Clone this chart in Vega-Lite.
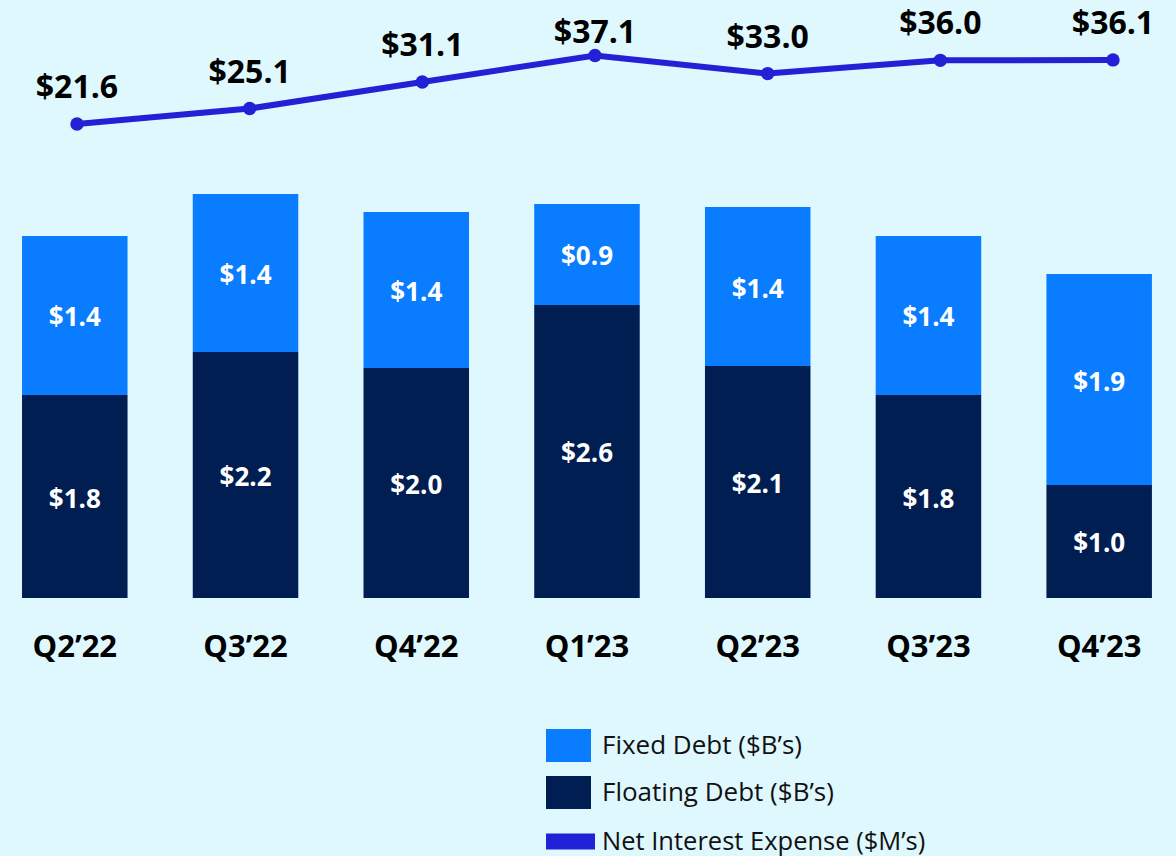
{
  "$schema": "https://vega.github.io/schema/vega-lite/v6.json",
  "width": 1176,
  "height": 598,
  "autosize": {"type": "none"},
  "padding": {"left": 0, "top": 0, "right": 0, "bottom": 258},
  "background": "#dff8fe",
  "config": {"view": {"stroke": null}, "font": "Open Sans"},
  "layer": [
    {
      "data": {
        "values": [
          {"quarter": "Q2’22", "type": "Floating Debt ($B’s)", "value": 1.796},
          {"quarter": "Q2’22", "type": "Fixed Debt ($B’s)", "value": 1.408},
          {"quarter": "Q3’22", "type": "Floating Debt ($B’s)", "value": 2.177},
          {"quarter": "Q3’22", "type": "Fixed Debt ($B’s)", "value": 1.398},
          {"quarter": "Q4’22", "type": "Floating Debt ($B’s)", "value": 2.035},
          {"quarter": "Q4’22", "type": "Fixed Debt ($B’s)", "value": 1.381},
          {"quarter": "Q1’23", "type": "Floating Debt ($B’s)", "value": 2.593},
          {"quarter": "Q1’23", "type": "Fixed Debt ($B’s)", "value": 0.894},
          {"quarter": "Q2’23", "type": "Floating Debt ($B’s)", "value": 2.053},
          {"quarter": "Q2’23", "type": "Fixed Debt ($B’s)", "value": 1.407},
          {"quarter": "Q3’23", "type": "Floating Debt ($B’s)", "value": 1.796},
          {"quarter": "Q3’23", "type": "Fixed Debt ($B’s)", "value": 1.408},
          {"quarter": "Q4’23", "type": "Floating Debt ($B’s)", "value": 1.0},
          {"quarter": "Q4’23", "type": "Fixed Debt ($B’s)", "value": 1.867}
        ]
      },
      "transform": [
        {"stack": "value", "groupby": ["quarter"], "sort": [{"field": "type", "order": "descending"}], "as": ["v0", "v1"]},
        {"calculate": "(datum.v0 + datum.v1) / 2", "as": "vmid"}
      ],
      "encoding": {
        "x": {
          "field": "quarter", "type": "nominal", "sort": null,
          "scale": {"paddingInner": 0.382, "paddingOuter": 0.135, "align": 0.478},
          "axis": {
            "title": null, "domain": false, "ticks": false, "tickSize": 0,
            "labelPadding": 58, "labelBaseline": "alphabetic", "labelFontSize": 31,
            "labelFontWeight": "bold", "labelColor": "#000000", "labelAngle": 0, "orient": "bottom"
          }
        }
      },
      "layer": [
        {
          "mark": {"type": "bar"},
          "encoding": {
            "y": {"field": "v0", "type": "quantitative", "scale": {"domain": [0, 5.292], "nice": false, "zero": false}, "axis": null},
            "y2": {"field": "v1"},
            "fill": {
              "field": "type", "type": "nominal",
              "scale": {"domain": ["Fixed Debt ($B’s)", "Floating Debt ($B’s)"], "range": ["#0a7cff", "#001e52"]},
              "legend": {
                "orient": "none", "legendX": 546, "legendY": 723, "title": null,
                "symbolType": "M-1,-0.733H1V0.733H-1Z", "symbolSize": 2025, "symbolStrokeWidth": 0,
                "symbolOpacity": 1,
                "labelFontSize": 26, "labelColor": "#111111", "labelOffset": 11, "labelLimit": 500,
                "rowPadding": 8, "padding": 0
              }
            }
          }
        },
        {
          "mark": {"type": "text", "fontSize": 26, "fontWeight": "bold", "color": "#ffffff", "baseline": "middle", "dy": 3},
          "encoding": {
            "y": {"field": "vmid", "type": "quantitative"},
            "text": {"field": "value", "type": "quantitative", "format": "$.1f"}
          }
        }
      ]
    },
    {
      "data": {
        "values": [
          {"quarter": "Q2’22", "nie": 21.6, "series": "Net Interest Expense ($M’s)"},
          {"quarter": "Q3’22", "nie": 25.1, "series": "Net Interest Expense ($M’s)"},
          {"quarter": "Q4’22", "nie": 31.1, "series": "Net Interest Expense ($M’s)"},
          {"quarter": "Q1’23", "nie": 37.1, "series": "Net Interest Expense ($M’s)"},
          {"quarter": "Q2’23", "nie": 33.0, "series": "Net Interest Expense ($M’s)"},
          {"quarter": "Q3’23", "nie": 36.0, "series": "Net Interest Expense ($M’s)"},
          {"quarter": "Q4’23", "nie": 36.1, "series": "Net Interest Expense ($M’s)"}
        ]
      },
      "encoding": {
        "x": {"field": "quarter", "type": "ordinal", "sort": null, "scale": {"type": "point", "padding": 0.4053, "align": 0.55}, "axis": null},
        "y": {"field": "nie", "type": "quantitative", "scale": {"domain": [-85.64, 49.65], "nice": false, "zero": false}, "axis": null}
      },
      "layer": [
        {
          "mark": {"type": "line", "strokeWidth": 6},
          "encoding": {
            "stroke": {
              "field": "series", "type": "nominal",
              "scale": {"range": ["#2121d6"]},
              "legend": {
                "orient": "none", "legendX": 546, "legendY": 817, "title": null,
                "symbolType": "M-1,-0.3H1V0.3H-1Z", "symbolSize": 2209, "symbolStrokeWidth": 2,
                "labelFontSize": 25.5, "labelColor": "#111111", "labelOffset": 7, "labelLimit": 500, "padding": 0,
                "encode": {"symbols": {"update": {"fill": {"value": "#2121d6"}, "stroke": {"value": "#3535a8"}, "strokeWidth": {"value": 2}, "opacity": {"value": 1}}}}
              }
            }
          }
        },
        {
          "mark": {"type": "point", "filled": true, "size": 180, "color": "#2121d6", "opacity": 1},
          "encoding": {}
        },
        {
          "mark": {"type": "text", "fontSize": 32, "fontWeight": "bold", "color": "#000000", "baseline": "alphabetic", "dy": {"expr": "datum.nie > 37 ? -12 : -26"}},
          "encoding": {
            "text": {"field": "nie", "type": "quantitative", "format": "$.1f"}
          }
        }
      ]
    }
  ],
  "resolve": {"scale": {"x": "independent", "y": "independent", "fill": "independent", "stroke": "independent"}}
}
